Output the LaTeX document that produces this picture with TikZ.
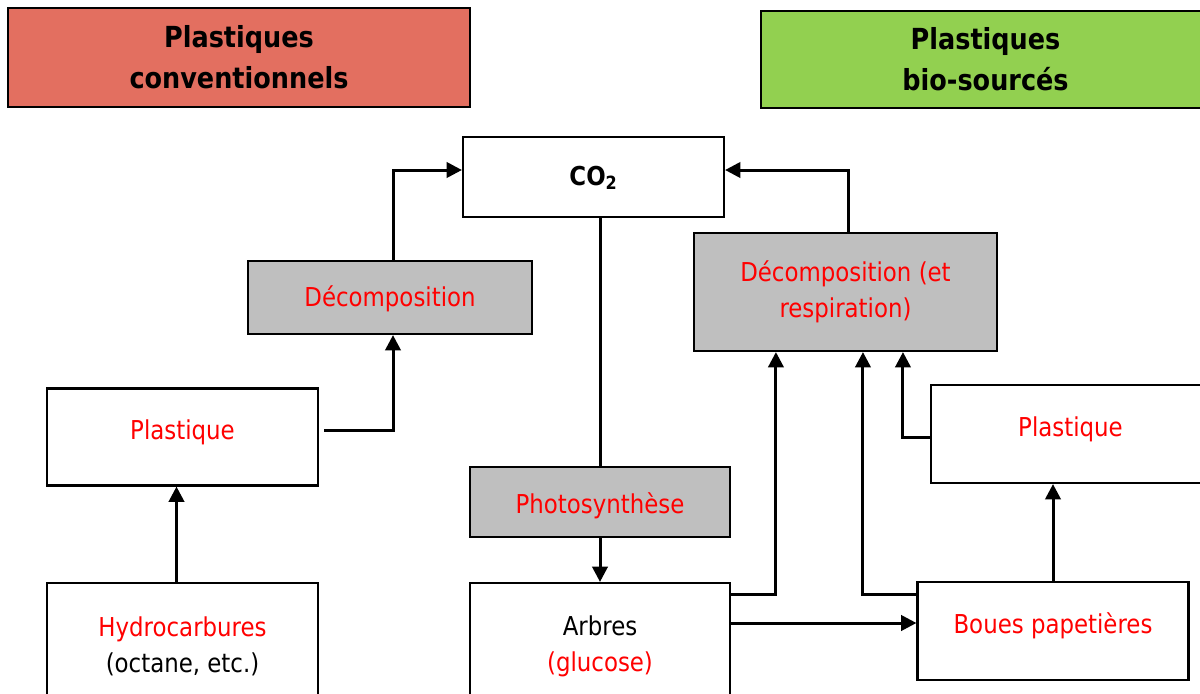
\documentclass[tikz,border=0pt]{standalone}
\usepackage{fontspec}
\setmainfont{DejaVu Sans}[FakeStretch=0.88]
\usepackage{xcolor}
\usepackage{tikz}
\usetikzlibrary{arrows.meta,positioning,calc}
\definecolor{hdrred}{HTML}{E36F60}
\definecolor{hdrgreen}{HTML}{92D050}
\definecolor{procgrey}{HTML}{BFBFBF}
\definecolor{txtred}{HTML}{FF0000}
\tikzset{
  box/.style={draw, line width=1.6pt, fill=white, align=center, inner sep=4pt, font=\fontsize{19.5}{27}\selectfont},
  greybox/.style={box, fill=procgrey},
  headbox/.style={draw, line width=1.6pt, align=center, font=\fontsize{21.75}{30.75}\selectfont\bfseries},
  lift/.style={text height=15pt, text depth=#1},
  sink/.style={text depth=5pt, text height=#1},
  conn/.style={-{Triangle[length=11.5pt, width=11.5pt]}, line width=2.25pt},
  link/.style={line width=2.25pt}
}

\begin{document}
\begin{tikzpicture}[x=0.75pt, y=-0.75pt]
    \useasboundingbox (0,0) rectangle (1200,693);
    \clip (0,0) rectangle (1200,693);
    % headers
    \node[headbox, fill=hdrred, minimum width=346.5pt, minimum height=74.25pt] (hconv) at (239,57.5) {Plastiques\\conventionnels};
    \node[headbox, fill=hdrgreen, minimum width=336.75pt, minimum height=72.75pt] (hbio) at (985.5,59.5) {Plastiques\\bio-sourcés};
    % boxes
    \node[box, sink=17pt, minimum width=195.75pt, minimum height=60pt] (co2) at (593.5,177) {\textbf{CO\textsubscript{2}}};
    \node[greybox, sink=18pt, minimum width=213pt, minimum height=54.75pt] (decL) at (390,297.5) {\textcolor{txtred}{Décomposition}};
    \node[greybox, minimum width=227.25pt, minimum height=88.5pt] (decR) at (845.5,292) {\textcolor{txtred}{Décomposition (et}\\\textcolor{txtred}{respiration)}};
    \node[box, lift=11pt, minimum width=203.25pt, minimum height=72.75pt] (plasL) at (182.5,437) {\textcolor{txtred}{Plastique}};
    \node[box, lift=12pt, minimum width=209.25pt, minimum height=73.5pt] (plasR) at (1070.5,434) {\textcolor{txtred}{Plastique}};
    \node[greybox, sink=22pt, minimum width=195pt, minimum height=52.5pt] (photo) at (600,502) {\textcolor{txtred}{Photosynthèse}};
    \node[box, minimum width=195pt, minimum height=94.5pt] (arbres) at (600,646) {Arbres\\\textcolor{txtred}{(glucose)}};
    \node[box, minimum width=203.25pt, minimum height=94.5pt] (hydro) at (182.5,646) {\textcolor{txtred}{Hydrocarbures}\\(octane, etc.)};
    \node[box, lift=12pt, minimum width=203.25pt, minimum height=73.5pt] (boues) at (1053,631) {\textcolor{txtred}{Boues papetières}};
    % connectors
    \draw[conn] ([shift={(3.75pt,5.25pt)}]plasL.east) -| ([xshift=2.25pt]decL.south);
    \draw[conn] ([xshift=2.25pt]decL.north) |- ([yshift=5.25pt]co2.west);
    \draw[link] (co2.south -| photo.north) -- (photo.north);
    \draw[conn] (photo.south) -- (arbres.north);
    \draw[conn] ([xshift=-4.5pt]hydro.north) -- ([xshift=-4.5pt]plasL.south);
    \draw[conn] ([yshift=-9.75pt]arbres.north east) -| ([xshift=62.25pt]decR.south west);
    \coordinate (bin) at ([yshift=6pt]boues.west);
    \draw[conn] (bin -| arbres.east) -- (bin);
    \draw[conn] ([yshift=-10.5pt]boues.north west) -| ([xshift=13.1pt]decR.south);
    \draw[conn] ([yshift=-2.25pt]plasR.west) -| ([xshift=43.1pt]decR.south);
    \draw[conn] (boues.north) -- (boues.north |- plasR.south);
    \draw[conn] ([xshift=1.9pt]decR.north) |- ([yshift=5.25pt]co2.east);
\end{tikzpicture}
\end{document}
